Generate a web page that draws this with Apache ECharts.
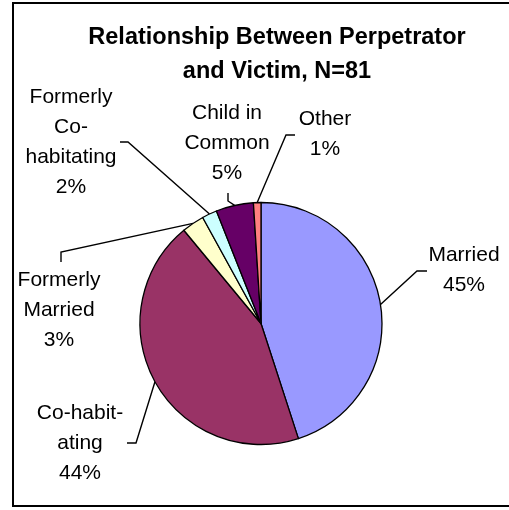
<!DOCTYPE html>
<html>
<head>
<meta charset="utf-8">
<script src="https://cdn.jsdelivr.net/npm/echarts@6/dist/echarts.min.js"></script>
<style>
html,body{margin:0;padding:0;background:#fff;}
#chart{width:509px;height:510px;}
</style>
</head>
<body>
<div id="chart"></div>
<script>
// ---- data ----
var categories = ['Married', 'Co-habit-\nating', 'Formerly\nMarried', 'Formerly\nCo-\nhabitating', 'Child in\nCommon', 'Other'];
var percents = [45, 44, 3, 2, 5, 1];
var colors = ['#9999FF', '#993366', '#FFFFCC', '#CCFFFF', '#660066', '#FF8080'];
var titleText = 'Relationship Between Perpetrator\nand Victim, N=81';

// ---- label layout (positions of label blocks and leader-line elbows) ----
var labelPos = [
  {x: 464, y: 270, p1: [417, 271], p2: [427, 271]},
  {x: 80,  y: 443, p1: [136, 443], p2: [127, 443]},
  {x: 59,  y: 310, p1: [61, 252],  p2: [61, 262]},
  {x: 71,  y: 142, p1: [128, 142], p2: [120, 142]},
  {x: 227, y: 143, p1: [228, 201], p2: [228, 193]},
  {x: 325, y: 134, p1: [286, 135], p2: [295, 135]}
];

var chart = echarts.init(document.getElementById('chart'), null, {renderer: 'canvas'});
var seriesData = categories.map(function (c, i) {
  return {name: c, value: percents[i], itemStyle: {color: colors[i]}};
});

chart.setOption({
  animation: false,
  backgroundColor: '#ffffff',
  title: {
    text: titleText,
    left: 272,
    top: 16,
    textAlign: 'center',
    textStyle: {
      fontFamily: 'Liberation Sans, Arial, sans-serif',
      fontWeight: 'bold',
      fontSize: 23.5,
      lineHeight: 34,
      color: '#000'
    }
  },
  graphic: [{
    type: 'rect',
    shape: {x: 13, y: 3, width: 520, height: 503},
    style: {fill: 'none', stroke: '#000', lineWidth: 2},
    silent: true
  }],
  series: [{
    type: 'pie',
    center: [261, 323.5],
    radius: 121,
    startAngle: 90,
    clockwise: true,
    avoidLabelOverlap: false,
    data: seriesData,
    itemStyle: {borderColor: '#000', borderWidth: 1.3},
    label: {
      show: true,
      formatter: '{b}\n{c}%',
      fontFamily: 'Liberation Sans, Arial, sans-serif',
      fontSize: 21,
      lineHeight: 30,
      color: '#000',
      align: 'center'
    },
    labelLine: {
      show: true,
      length: 10,
      length2: 10,
      lineStyle: {color: '#000', width: 1.4}
    },
    labelLayout: function (params) {
      var p = labelPos[params.dataIndex];
      var p0 = params.labelLinePoints ? params.labelLinePoints[0] : p.p1;
      return {
        x: p.x,
        y: p.y,
        align: 'center',
        verticalAlign: 'middle',
        labelLinePoints: [p0, p.p1, p.p2]
      };
    },
    emphasis: {disabled: true}
  }]
});
</script>
</body>
</html>
